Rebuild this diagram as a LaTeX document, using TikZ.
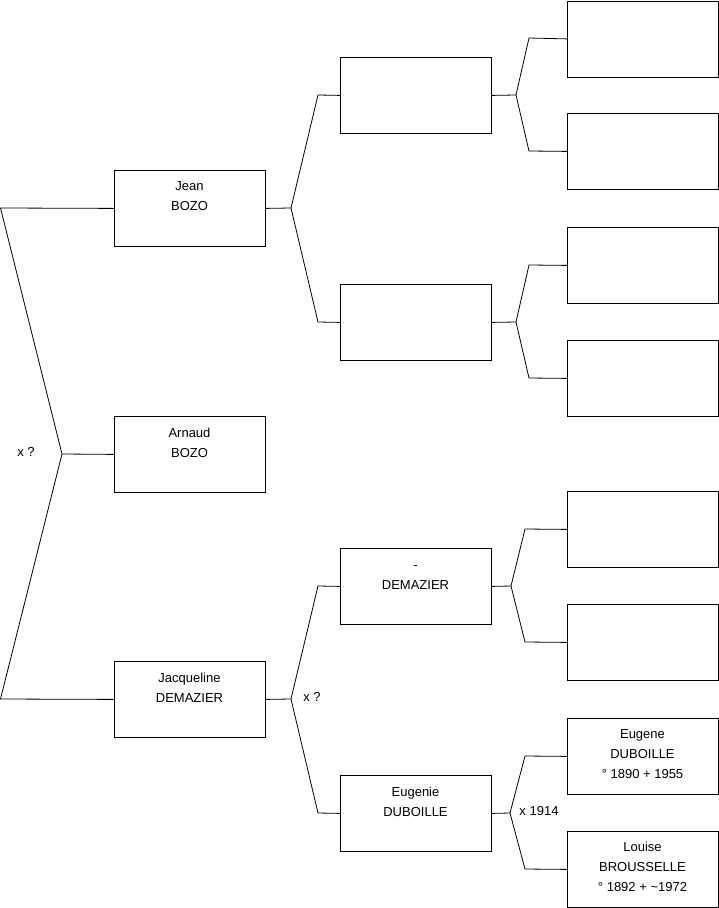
\documentclass[tikz,border=0pt]{standalone}
\usepackage{fontspec}
\setmainfont{Liberation Sans}
\begin{document}
\begin{tikzpicture}[x=1pt,y=-1pt,
  box/.style={draw=black,line width=0.8pt,fill=white,anchor=north west,minimum width=151pt,minimum height=76pt,inner sep=0pt},
  txt/.style={anchor=base,align=center,inner sep=0pt,font=\fontsize{13}{20}\selectfont},
  lbl/.style={anchor=center,inner sep=0pt,font=\fontsize{13}{15}\selectfont},
  con/.style={draw=black,line width=0.8pt}]
\useasboundingbox (0,0) rectangle (719,908);
% column 1
\node[box] (jean) at (114,170) {};
\node[box] (arnaud) at (114,416) {};
\node[box] (jacq) at (114,661) {};
% column 2
\node[box] (pa) at (340,57) {};
\node[box] (pb) at (340,284) {};
\node[box] (dem) at (340,548) {};
\node[box] (eug) at (340,775) {};
% column 3
\node[box] (g1) at (567,0.5) {};
\node[box] (g2) at (567,113) {};
\node[box] (g3) at (567,227) {};
\node[box] (g4) at (567,340) {};
\node[box] (g5) at (567,491) {};
\node[box] (g6) at (567,604) {};
\node[box] (g7) at (567,718) {};
\node[box] (g8) at (567,831) {};
% texts (base = baseline of last line)
\node[txt] (tjean) at (189.5,210.5) {Jean\\BOZO};
\node[txt] (tarn) at (189.5,457.5) {Arnaud\\BOZO};
\node[txt] (tjac) at (189.5,702) {Jacqueline\\DEMAZIER};
\node[txt] (tdem) at (415.5,589) {-\\DEMAZIER};
\node[txt] (teug) at (415.5,816) {Eugenie\\DUBOILLE};
\node[txt] (tg7) at (642.5,778) {Eugene\\DUBOILLE\\° 1890 + 1955};
\node[txt] (tg8) at (642.5,891.5) {Louise\\BROUSSELLE\\° 1892 + \textasciitilde1972};
% labels
\node[lbl] (l1) at (26,452) {x ?};
\node[lbl] (l2) at (312,697) {x ?};
\node[lbl] (l3) at (539,811) {x 1914};
% coordinates
\coordinate (a1) at (0.5,208);
\coordinate (a2) at (0.5,699);
\coordinate (f0) at (62,454);
\coordinate (fj) at (291,208);
\coordinate (fq) at (291,699);
\coordinate (ja) at (318,95);
\coordinate (jb) at (318,322);
\coordinate (qa) at (318,586);
\coordinate (qb) at (318,813);
\coordinate (fa) at (516,95);
\coordinate (fb) at (516,322);
\coordinate (fd) at (511,586);
\coordinate (fe) at (510,813);
\coordinate (a1t) at (529,38);
\coordinate (a1b) at (529,151);
\coordinate (b1t) at (529,265);
\coordinate (b1b) at (529,378);
\coordinate (d1t) at (525,529);
\coordinate (d1b) at (525,642);
\coordinate (e1t) at (525,756);
\coordinate (e1b) at (525,869);
% connectors
\draw[con] (jean.west) -- (a1) -- (f0) -- (a2) -- (jacq.west);
\draw[con] (f0) -- (arnaud.west);
\draw[con] (jean.east) -- (fj);
\draw[con] (pa.west) -- (ja) -- (fj) -- (jb) -- (pb.west);
\draw[con] (jacq.east) -- (fq);
\draw[con] (dem.west) -- (qa) -- (fq) -- (qb) -- (eug.west);
\draw[con] (pa.east) -- (fa);
\draw[con] (g1.west) -- (a1t) -- (fa) -- (a1b) -- (g2.west);
\draw[con] (pb.east) -- (fb);
\draw[con] (g3.west) -- (b1t) -- (fb) -- (b1b) -- (g4.west);
\draw[con] (dem.east) -- (fd);
\draw[con] (g5.west) -- (d1t) -- (fd) -- (d1b) -- (g6.west);
\draw[con] (eug.east) -- (fe);
\draw[con] (g7.west) -- (e1t) -- (fe) -- (e1b) -- (g8.west);
\end{tikzpicture}
\end{document}
